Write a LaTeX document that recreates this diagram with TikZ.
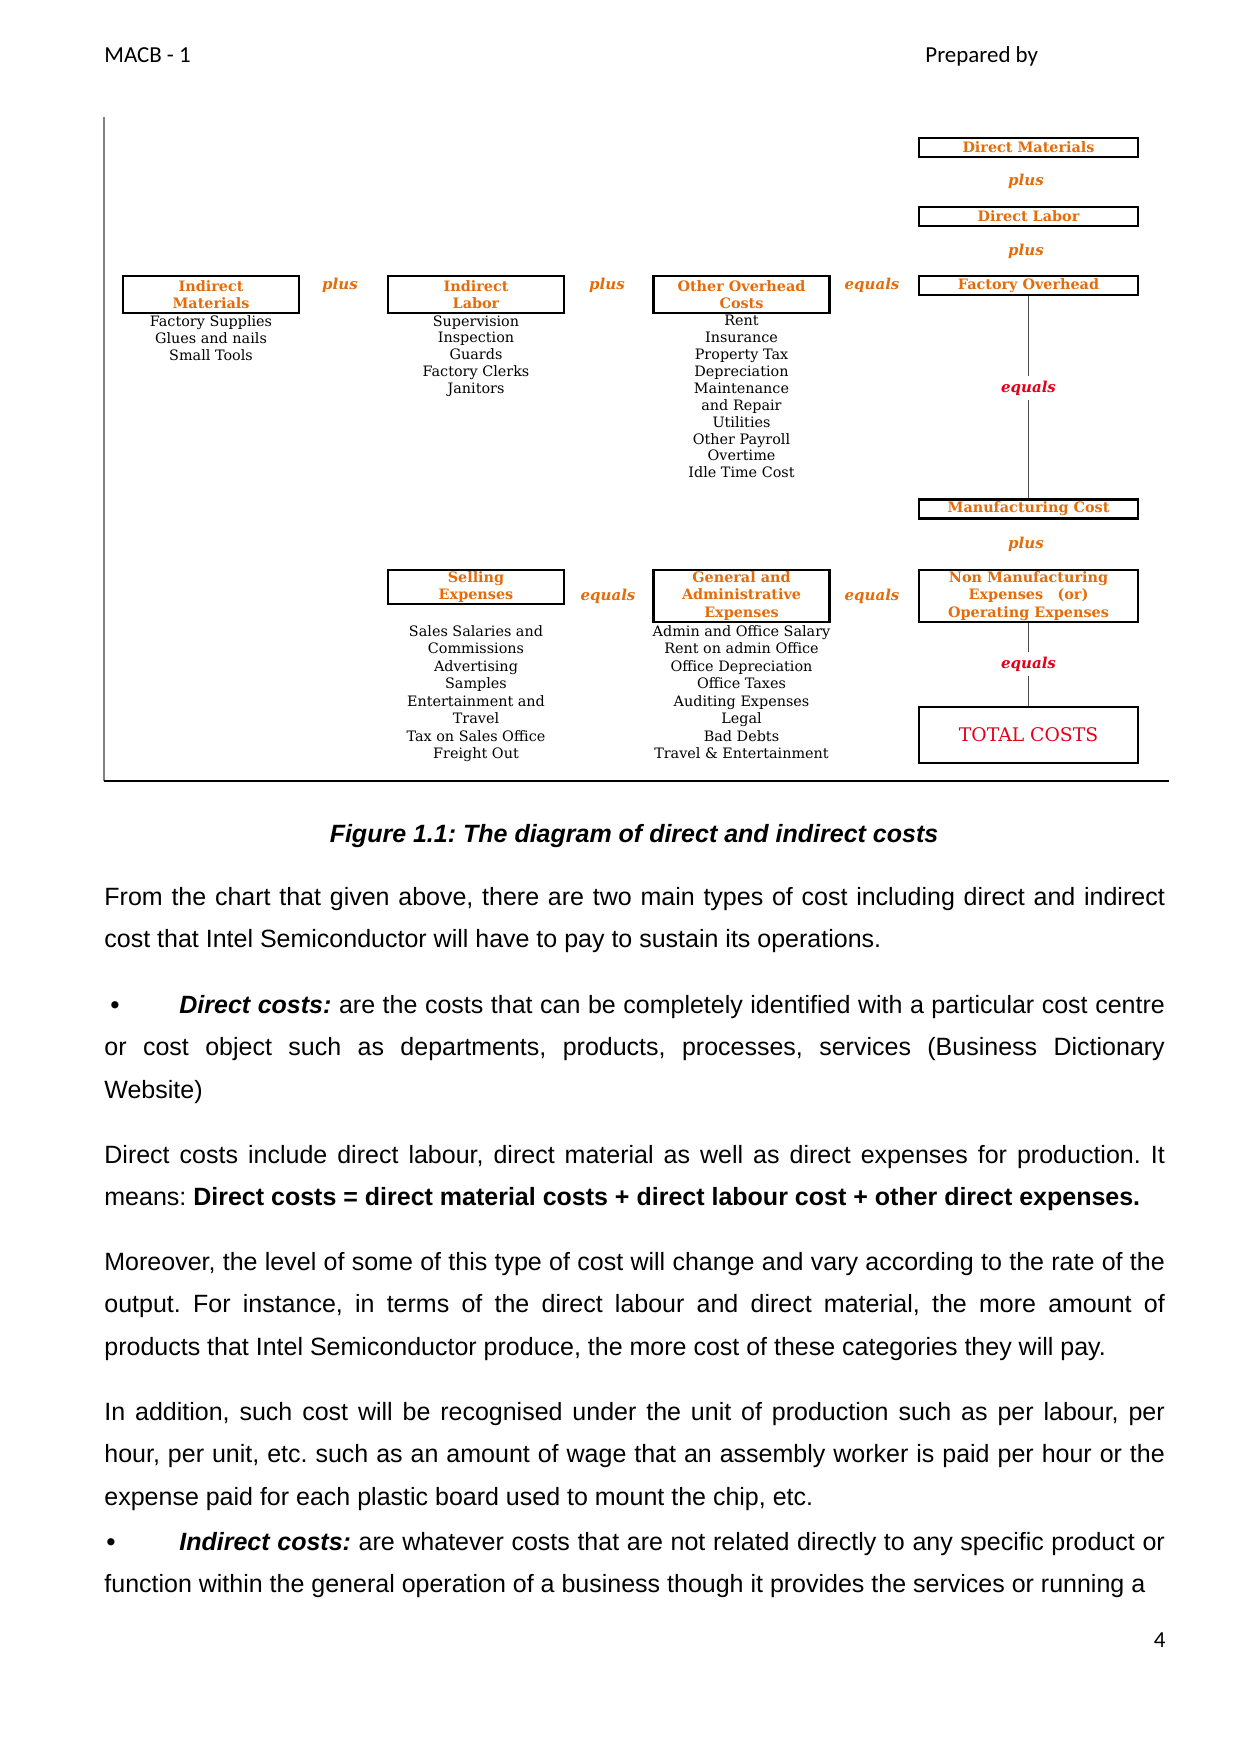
\documentclass[tikz,border=0pt]{standalone}
\usepackage{fontspec}
\setmainfont{Liberation Sans}
\newfontfamily\chartfont{DejaVu Serif}
\newfontfamily\hdrfont{Carlito}
\usetikzlibrary{positioning}
\definecolor{boxorange}{RGB}{228,108,10}
\definecolor{eqred}{RGB}{226,0,26}
\frenchspacing
\begin{document}
\begin{tikzpicture}[x=0.48pt,y=-0.48pt,every node/.style={inner sep=0pt}]
\tikzstyle{hbox}=[draw,line width=1pt,text=boxorange,align=center,font=\chartfont\bfseries\fontsize{6.9}{8.4}\selectfont]
\tikzstyle{small}=[hbox,minimum width=84.5pt]
\tikzstyle{wide}=[hbox,minimum width=105pt]
\tikzstyle{op}=[text=boxorange,font=\chartfont\bfseries\itshape\fontsize{7.2}{8}\selectfont]
\tikzstyle{redop}=[op,text=eqred,inner sep=2pt]
\tikzstyle{items}=[anchor=north,align=center,font=\chartfont\fontsize{6.9}{8.1}\selectfont]
\tikzstyle{link}=[draw,gray!60!black,line width=0.8pt]
\tikzstyle{body}=[anchor=base west,text width=509pt,align=justify,font=\fontsize{12}{20.6}\selectfont]
\useasboundingbox[fill=white] (0,0) rectangle (1241,1754);

\node[anchor=base west,font=\hdrfont\fontsize{11}{13}\selectfont] (hd0) at (104,62) {MACB - 1};
\node[anchor=base west,font=\hdrfont\fontsize{11}{13}\selectfont] (hd1) at (925,62) {Prepared by};

\draw[gray,line width=0.6pt] (104,117) -- (104,781);
\draw[line width=1.3pt] (104,781) -- (1169,781);

\node[wide,minimum height=9.1pt] (n06) at (1028.5,147.5) {Direct Materials};
\node[op] (n16) at (1026,181) {plus};
\node[wide,minimum height=9.1pt] (n26) at (1028.5,216.5) {Direct Labor};
\node[op] (n36) at (1026,251) {plus};

\node[small,minimum height=17.8pt] (n40) at (211,294.5) {Indirect\\Materials};
\node[op] (n41) at (340,285) {plus};
\node[small,minimum height=17.8pt] (n42) at (476,294.5) {Indirect\\Labor};
\node[op] (n43) at (607,285) {plus};
\node[small,minimum height=17.8pt] (n44) at (741.5,294.5) {Other Overhead\\Costs};
\node[op] (n45) at (872,285) {equals};
\node[wide,minimum height=9.1pt] (n46) at (1028.5,285.5) {Factory Overhead};

\node[items] (n50) at (211,315) {Factory Supplies\\Glues and nails\\Small Tools};
\node[items] (n52) at (476,315) {Supervision\\Inspection\\Guards\\Factory Clerks\\Janitors};
\node[items] (n54) at (741.5,315) {Rent\\Insurance\\Property Tax\\Depreciation\\Maintenance\\and Repair\\Utilities\\Other Payroll\\Overtime\\Idle Time Cost};
\node[redop] (n56) at (1028.5,388) {equals};

\node[wide,minimum height=9.1pt] (n66) at (1028.5,509) {Manufacturing Cost};
\node[op] (n76) at (1026,544) {plus};

\node[small,minimum height=16.3pt] (n82) at (476,587) {Selling\\Expenses};
\node[op] (n83) at (608,596) {equals};
\node[small,minimum height=25pt] (n84) at (741.5,596) {General and\\Administrative\\Expenses};
\node[op] (n85) at (872,596) {equals};
\node[wide,minimum height=25pt] (n86) at (1028.5,596) {Non Manufacturing\\Expenses\quad(or)\\Operating Expenses};

\node[items,font=\chartfont\fontsize{6.9}{8.4}\selectfont] (n92) at (476,625) {Sales Salaries and\\Commissions\\Advertising\\Samples\\Entertainment and\\Travel\\Tax on Sales Office\\Freight Out};
\node[items,font=\chartfont\fontsize{6.9}{8.4}\selectfont] (n94) at (741.5,625) {Admin and Office Salary\\Rent on admin Office\\Office Depreciation\\Office Taxes\\Auditing Expenses\\Legal\\Bad Debts\\Travel \& Entertainment};
\node[redop] (n96) at (1028.5,664) {equals};
\node[draw,line width=1pt,minimum width=105pt,minimum height=27pt,text=eqred,font=\chartfont\fontsize{9}{10}\selectfont] (ntot) at (1028.5,735) {TOTAL COSTS};

\draw[link] (n46.south) -- (n56.north);
\draw[link] (n56.south) -- (n66.north);
\draw[link] (n86.south) -- (n96.north);
\draw[link] (n96.south) -- (ntot.north);

\node[anchor=base,font=\bfseries\itshape\fontsize{12}{14}\selectfont] (cap) at (634,842) {Figure 1.1: The diagram of direct and indirect costs};

\node[body] (p1) at (104,905) {From the chart that given above, there are two main types of cost including direct and indirect\linebreak cost that Intel Semiconductor will have to pay to sustain its operations.};
\node[body] (p2) at (104,1013) {\makebox[36pt][l]{\hspace{3pt}\textbf{\textbullet}}\textbf{\textit{Direct costs:}} are the costs that can be completely identified with a particular cost centre\linebreak or cost object such as departments, products, processes, services (Business Dictionary\linebreak Website)};
\node[body] (p3) at (104,1163) {Direct costs include direct labour, direct material as well as direct expenses for production. It\linebreak means: \textbf{Direct costs = direct material costs + direct labour cost + other direct expenses.}};
\node[body] (p4) at (104,1270) {Moreover, the level of some of this type of cost will change and vary according to the rate of the\linebreak output. For instance, in terms of the direct labour and direct material, the more amount of\linebreak products that Intel Semiconductor produce, the more cost of these categories they will pay.};
\node[body] (p5) at (104,1420) {In addition, such cost will be recognised under the unit of production such as per labour, per\linebreak hour, per unit, etc. such as an amount of wage that an assembly worker is paid per hour or the\linebreak expense paid for each plastic board used to mount the chip, etc.};
\node[body] (p6) at (104,1550) {\parfillskip=0pt \makebox[36pt][l]{\hspace{1pt}\textbf{\textbullet}}\textbf{\textit{Indirect costs:}} are whatever costs that are not related directly to any specific product or\linebreak function within the general operation of a business though it provides the services or running a};
\node[anchor=base east,font=\hdrfont\fontsize{11}{13}\selectfont] (pg) at (1166,1647) {4};
\end{tikzpicture}
\end{document}
